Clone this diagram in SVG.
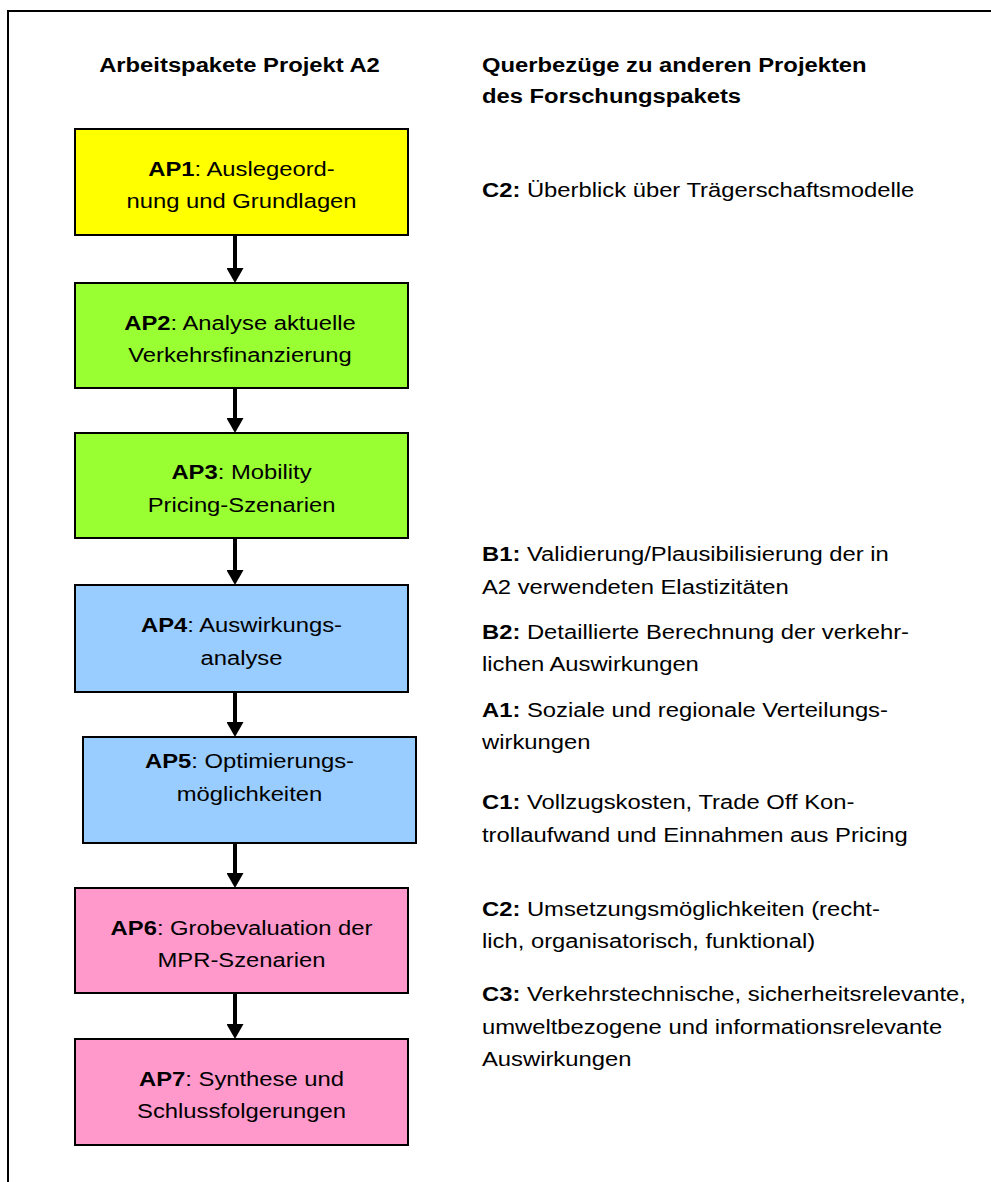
<svg xmlns="http://www.w3.org/2000/svg" width="991" height="1182" viewBox="0 0 991 1182">
  <style>
    text { font-family: "Liberation Sans", Arial, sans-serif; font-size: 20px; fill: #000; }
    .b { font-weight: bold; }
    .box { stroke: #000; stroke-width: 2; }
    .ap-yellow { fill: #FFFF00; }
    .ap-green { fill: #99FF33; }
    .ap-blue { fill: #99CCFF; }
    .ap-pink { fill: #FF99CC; }
    .flow { stroke: #000; stroke-width: 4; fill: none; marker-end: url(#head); }
    .mid { text-anchor: middle; }
  </style>
  <defs>
    <marker id="head" markerUnits="userSpaceOnUse" markerWidth="15" markerHeight="17" viewBox="0 0 15 17" refX="2" refY="8.5" orient="auto">
      <path d="M0,0 L15,8.5 L0,17 Z" fill="#000"/>
    </marker>
  </defs>

  <rect width="991" height="1182" fill="#fff"/>
  <!-- frame (open to the right and bottom) -->
  <path d="M8 1182 V11 H991" fill="none" stroke="#000" stroke-width="2"/>

  <!-- column headings -->
  <g id="heading-left">
    <text class="b mid" transform="translate(239.5 72) scale(1.19 1)">Arbeitspakete Projekt A2</text>
  </g>
  <g id="heading-right" transform="translate(482 0) scale(1.19 1)">
    <text class="b" x="0" y="72">Querbezüge zu anderen Projekten</text>
    <text class="b" x="0" y="103">des Forschungspakets</text>
  </g>

  <!-- work packages -->
  <g id="ap1">
    <rect class="box ap-yellow" x="75" y="129" width="333" height="106"/>
    <text class="mid" transform="translate(241.5 176) scale(1.19 1)"><tspan class="b">AP1</tspan>: Auslegeord-<tspan x="0" y="32">nung und Grundlagen</tspan></text>
  </g>
  <g id="ap2">
    <rect class="box ap-green" x="75" y="283" width="333" height="105"/>
    <text class="mid" transform="translate(240 330) scale(1.19 1)"><tspan class="b">AP2</tspan>: Analyse aktuelle<tspan x="0" y="32">Verkehrsfinanzierung</tspan></text>
  </g>
  <g id="ap3">
    <rect class="box ap-green" x="75" y="433" width="333" height="105"/>
    <text class="mid" transform="translate(241.5 479) scale(1.19 1)"><tspan class="b">AP3</tspan>: Mobility<tspan x="0" y="33">Pricing-Szenarien</tspan></text>
  </g>
  <g id="ap4">
    <rect class="box ap-blue" x="75" y="585" width="333" height="107"/>
    <text class="mid" transform="translate(241.5 632) scale(1.19 1)"><tspan class="b">AP4</tspan>: Auswirkungs-<tspan x="0" y="33">analyse</tspan></text>
  </g>
  <g id="ap5">
    <rect class="box ap-blue" x="83" y="737" width="333" height="106"/>
    <text class="mid" transform="translate(249.5 768) scale(1.19 1)"><tspan class="b">AP5</tspan>: Optimierungs-<tspan x="0" y="33">möglichkeiten</tspan></text>
  </g>
  <g id="ap6">
    <rect class="box ap-pink" x="75" y="888" width="333" height="105"/>
    <text class="mid" transform="translate(241.5 935) scale(1.19 1)"><tspan class="b">AP6</tspan>: Grobevaluation der<tspan x="0" y="32">MPR-Szenarien</tspan></text>
  </g>
  <g id="ap7">
    <rect class="box ap-pink" x="75" y="1039" width="333" height="106"/>
    <text class="mid" transform="translate(241.5 1086) scale(1.19 1)"><tspan class="b">AP7</tspan>: Synthese und<tspan x="0" y="32">Schlussfolgerungen</tspan></text>
  </g>

  <!-- sequence arrows -->
  <g id="connectors">
    <path class="flow" d="M235 235 V270"/>
    <path class="flow" d="M235 388 V420"/>
    <path class="flow" d="M235 538 V572"/>
    <path class="flow" d="M235 692 V724"/>
    <path class="flow" d="M235 843 V875"/>
    <path class="flow" d="M235 993 V1026"/>
  </g>

  <!-- cross references -->
  <g id="refs" transform="translate(482 0) scale(1.19 1)">
    <g id="ref-c2-top">
      <text x="0" y="197"><tspan class="b">C2:</tspan> Überblick über Trägerschaftsmodelle</text>
    </g>
    <g id="ref-b1">
      <text x="0" y="561"><tspan class="b">B1:</tspan> Validierung/Plausibilisierung der in</text>
      <text x="0" y="594">A2 verwendeten Elastizitäten</text>
    </g>
    <g id="ref-b2">
      <text x="0" y="639"><tspan class="b">B2:</tspan> Detaillierte Berechnung der verkehr-</text>
      <text x="0" y="671">lichen Auswirkungen</text>
    </g>
    <g id="ref-a1">
      <text x="0" y="717"><tspan class="b">A1:</tspan> Soziale und regionale Verteilungs-</text>
      <text x="0" y="749">wirkungen</text>
    </g>
    <g id="ref-c1">
      <text x="0" y="809"><tspan class="b">C1:</tspan> Vollzugskosten, Trade Off Kon-</text>
      <text x="0" y="842">trollaufwand und Einnahmen aus Pricing</text>
    </g>
    <g id="ref-c2">
      <text x="0" y="916"><tspan class="b">C2:</tspan> Umsetzungsmöglichkeiten (recht-</text>
      <text x="0" y="948">lich, organisatorisch, funktional)</text>
    </g>
    <g id="ref-c3">
      <text x="0" y="1001"><tspan class="b">C3:</tspan> Verkehrstechnische, sicherheitsrelevante,</text>
      <text x="0" y="1034">umweltbezogene und informationsrelevante</text>
      <text x="0" y="1066">Auswirkungen</text>
    </g>
  </g>
</svg>
